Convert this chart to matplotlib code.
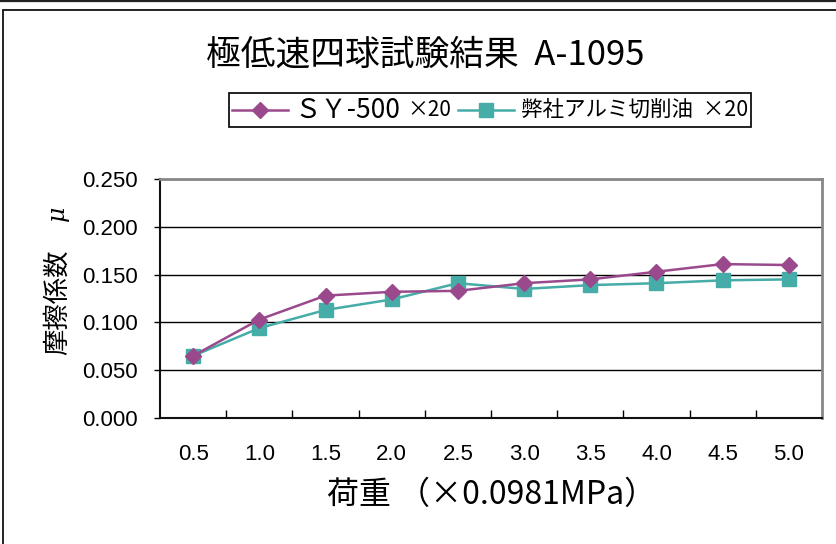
import matplotlib
matplotlib.use("Agg")
import matplotlib.pyplot as plt
from matplotlib.lines import Line2D
from matplotlib.patches import Rectangle
from matplotlib.offsetbox import HPacker, TextArea, DrawingArea, AnchoredOffsetbox

# ---------- data ----------
loads = ["0.5", "1.0", "1.5", "2.0", "2.5", "3.0", "3.5", "4.0", "4.5", "5.0"]
sy500 = [0.065, 0.103, 0.128, 0.132, 0.133, 0.141, 0.145, 0.153, 0.161, 0.160]
alumi = [0.065, 0.094, 0.113, 0.124, 0.141, 0.135, 0.139, 0.141, 0.144, 0.145]
yticks = [0.0, 0.05, 0.10, 0.15, 0.20, 0.25]

PURPLE = "#9A4A8C"
TEAL = "#45ACA8"
JP = ["Noto Sans CJK JP", "DejaVu Sans"]
NUM = ["Liberation Sans", "DejaVu Sans"]

W, H = 837, 544
fig = plt.figure(figsize=(W / 100, H / 100), dpi=100)

# outer frame (cut off right/bottom like the reference) + top rule
fig.add_artist(Line2D([0, 1], [1 - 1 / H] * 2, transform=fig.transFigure,
                      color="#222222", lw=1.6))
fig.add_artist(Rectangle((3 / W, -0.1), 2, 1 - 10.5 / H + 0.1,
                         transform=fig.transFigure, fill=False,
                         ec="#111111", lw=1.3))

ax = fig.add_axes([160 / W, 1 - 418 / H, 662 / W, 239 / H])
x = list(range(len(loads)))
ax.plot(x, sy500, color=PURPLE, lw=1.8, marker="D", ms=8.5, zorder=4)
ax.plot(x, alumi, color=TEAL, lw=1.8, marker="s", ms=9.5, zorder=3)

ax.set_xlim(-0.5, len(loads) - 0.5)
ax.set_ylim(0, 0.25)
ax.set_yticks(yticks)
ax.set_yticklabels([f"{v:.3f}" for v in yticks], fontfamily=NUM, fontsize=16)
ax.set_xticks(x)
ax.set_xticklabels(loads, fontfamily=NUM, fontsize=16)
ax.set_xticks([i + 0.5 for i in x[:-1]], minor=True)
ax.tick_params(axis="x", which="major", length=0, pad=19)
ax.tick_params(axis="x", which="minor", direction="in", length=6, width=1)
ax.tick_params(axis="y", direction="out", length=4, width=1, pad=12)
ax.grid(axis="y", color="black", lw=1)
ax.set_axisbelow(True)
for s in ("left", "bottom"):
    ax.spines[s].set_color("#111111")
    ax.spines[s].set_linewidth(1.5)
for s in ("top", "right"):
    ax.spines[s].set_color("#888888")
    ax.spines[s].set_linewidth(2)

# titles / labels
fig.text(425 / W, 1 - 55 / H, "極低速四球試験結果  A-1095", ha="center", va="center",
         fontfamily=JP, fontsize=25)
fig.text(57 / W, 1 - 302 / H, "摩擦係数", rotation=90, ha="center", va="center",
         fontfamily=JP, fontsize=19)
fig.text(57 / W, 1 - 213 / H, "μ", rotation=90, ha="center", va="center",
         fontfamily="DejaVu Serif", style="italic", fontsize=17)
fig.text(492 / W, 1 - 495 / H, "荷重 （×0.0981MPa）", ha="center", va="center",
         fontfamily=JP, fontsize=23)


# legend
def handle(color, marker, ms):
    da = DrawingArea(40, 14, 0, 0)
    da.add_artist(Line2D([0, 40], [7, 7], color=color, lw=1.8))
    da.add_artist(Line2D([20], [7], color=color, marker=marker, ms=ms, lw=0))
    return da


items = [
    handle(PURPLE, "D", 8.5),
    TextArea("ＳＹ-500", textprops=dict(fontfamily=JP, fontsize=19)),
    TextArea("×20", textprops=dict(fontfamily=JP, fontsize=15)),
    handle(TEAL, "s", 9.5),
    TextArea("弊社アルミ切削油  ×20", textprops=dict(fontfamily=JP, fontsize=15.5)),
]
pack = HPacker(children=items, align="center", pad=0, sep=5)
box = AnchoredOffsetbox(loc="center", child=pack, pad=0.25, frameon=True,
                        bbox_to_anchor=(490 / W, 1 - 110 / H),
                        bbox_transform=fig.transFigure, borderpad=0)
box.patch.set_edgecolor("#111111")
box.patch.set_linewidth(1.3)
fig.add_artist(box)

fig.savefig("out.png", dpi=100)
